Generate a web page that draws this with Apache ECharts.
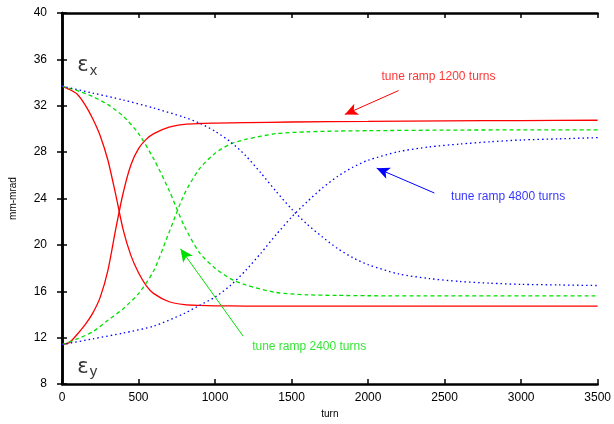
<!DOCTYPE html>
<html>
<head>
<meta charset="utf-8">
<script src="https://cdn.jsdelivr.net/npm/echarts@6/dist/echarts.min.js"></script>
<style>
html, body { margin: 0; padding: 0; background: #fff; }
#chart { width: 614px; height: 424px; }
</style>
</head>
<body>
<div id="chart"></div>
<script>
// 数据 (turn, mm-mrad)
var redTurns = [0, 50, 100, 150, 200, 250, 300, 350, 400, 450, 500, 550, 600, 700, 800, 900, 1000, 1200, 1500, 2000, 2500, 3000, 3500];
var redEx = [33.7, 33.4, 33.0, 32.1, 30.9, 29.4, 27.3, 24.4, 21.3, 19.1, 17.6, 16.5, 15.8, 15.1, 14.85, 14.78, 14.75, 14.73, 14.72, 14.72, 14.73, 14.73, 14.73];
var redEy = [11.4, 11.6, 12.3, 13.1, 14.1, 15.5, 17.8, 21.3, 24.5, 26.9, 28.3, 29.1, 29.6, 30.15, 30.4, 30.47, 30.5, 30.55, 30.6, 30.65, 30.7, 30.72, 30.75];

var greenTurns = [0, 100, 200, 300, 400, 500, 600, 700, 800, 900, 1000, 1100, 1200, 1400, 1600, 1800, 2000, 2500, 3000, 3500];
var greenEx = [33.7, 33.3, 32.8, 32.1, 31.1, 29.6, 27.4, 24.7, 21.6, 19.3, 18.0, 17.1, 16.55, 15.9, 15.7, 15.65, 15.62, 15.6, 15.6, 15.6];
var greenEy = [11.4, 11.9, 12.5, 13.5, 14.5, 15.8, 17.8, 21.1, 24.4, 26.6, 27.9, 28.7, 29.1, 29.6, 29.75, 29.82, 29.85, 29.9, 29.92, 29.93];

var blueTurns = [0, 200, 400, 600, 800, 900, 1000, 1100, 1200, 1300, 1400, 1500, 1600, 1700, 1800, 1900, 2000, 2200, 2400, 2600, 2800, 3000, 3250, 3500];
var blueEx = [33.7, 33.1, 32.5, 31.8, 31.0, 30.5, 29.8, 28.9, 27.7, 26.2, 24.6, 23.1, 21.8, 20.7, 19.7, 18.9, 18.3, 17.5, 17.1, 16.85, 16.7, 16.6, 16.55, 16.5];
var blueEy = [11.4, 11.9, 12.4, 13.0, 14.1, 14.8, 15.5, 16.5, 17.8, 19.3, 20.9, 22.4, 23.7, 24.9, 25.9, 26.7, 27.3, 28.05, 28.45, 28.7, 28.9, 29.05, 29.15, 29.25];

var xTicks = [0, 500, 1000, 1500, 2000, 2500, 3000, 3500];
var yTicks = [8, 12, 16, 20, 24, 28, 32, 36, 40];

// 注释: 箭头 [起点, 终点] 与文字位置
var redArrow = [[2199, 33.31], [1848, 31.25]];
var blueArrow = [[2433, 24.48], [2056, 26.62]];
var greenArrow = [[1184, 12.13], [774, 19.67]];
var redNote = [2460, 34.5];
var blueNote = [2915, 24.2];
var greenNote = [1615, 11.2];
var exPos = [165, 35.45];
var eyPos = [165, 9.45];

function pairs(xs, ys) {
	var out = [];
	for (var i = 0; i < xs.length; i++) {
		out.push([xs[i], ys[i]]);
	}
	return out;
}

function curve(xs, ys, color, type) {
	return {
		type : 'line',
		data : pairs(xs, ys),
		showSymbol : false,
		smooth : 0.25,
		lineStyle : { color : color, width : 1.3, type : type },
		z : 3
	};
}

function arrow(pts, color) {
	return {
		type : 'line',
		data : [],
		markLine : {
			silent : true,
			symbol : [ 'none', 'arrow' ],
			symbolSize : [ 9, 13 ],
			label : { show : false },
			lineStyle : { color : color, width : 1, type : 'solid' },
			data : [ [ { coord : pts[0] }, { coord : pts[1] } ] ]
		}
	};
}

function note(pos, text, color, rich) {
	return {
		type : 'scatter',
		data : [ pos ],
		symbolSize : 0,
		silent : true,
		label : {
			show : true,
			position : 'inside',
			formatter : text,
			color : color,
			fontSize : 12,
			fontFamily : 'Liberation Sans',
			rich : rich
		}
	};
}

var epsRich = {
	e : { fontSize : 21, fontFamily : 'DejaVu Sans', color : '#000', verticalAlign : 'bottom' },
	s : { fontSize : 15, fontFamily : 'Liberation Sans', color : '#000', verticalAlign : 'bottom', padding : [ 0, 0, -2, 1 ] }
};

var axisBase = {
	axisLine : { show : true, lineStyle : { color : '#000', width : 2.5 } },
	axisTick : { show : true, inside : true, length : 5, lineStyle : { color : '#000', width : 1.5 } },
	splitLine : { show : false }
};

function plain(v) {
	return String(v);
}

var chart = echarts.init(document.getElementById('chart'));
var option = {
	animation : false,
	grid : { left : 61, right : 15, top : 13, bottom : 38 },
	xAxis : [ Object.assign({
		type : 'value', position : 'bottom',
		min : xTicks[0], max : xTicks[xTicks.length - 1], interval : 500,
		name : 'turn', nameLocation : 'middle', nameGap : 24,
		nameTextStyle : { fontSize : 10, fontFamily : 'Liberation Sans', color : '#000' },
		axisLabel : { fontSize : 12, fontFamily : 'Liberation Sans', color : '#000', margin : 8, formatter : plain }
	}, axisBase), Object.assign({
		type : 'value', position : 'top',
		min : xTicks[0], max : xTicks[xTicks.length - 1], interval : 500,
		axisLabel : { show : false }
	}, axisBase) ],
	yAxis : [ Object.assign({
		type : 'value', position : 'left',
		min : yTicks[0], max : yTicks[yTicks.length - 1], interval : 4,
		name : 'mm-mrad', nameLocation : 'middle', nameGap : 44,
		nameTextStyle : { fontSize : 10, fontFamily : 'Liberation Sans', color : '#000' },
		axisLabel : { fontSize : 12, fontFamily : 'Liberation Sans', color : '#000', margin : 15, formatter : plain }
	}, axisBase), Object.assign({
		type : 'value', position : 'right',
		min : yTicks[0], max : yTicks[yTicks.length - 1], interval : 4,
		axisLabel : { show : false }
	}, axisBase) ],
	series : [
		curve(redTurns, redEx, '#ff0000', 'solid'),
		curve(redTurns, redEy, '#ff0000', 'solid'),
		curve(greenTurns, greenEx, '#00e000', [ 4, 3 ]),
		curve(greenTurns, greenEy, '#00e000', [ 4, 3 ]),
		curve(blueTurns, blueEx, '#0000ff', [ 1.5, 3 ]),
		curve(blueTurns, blueEy, '#0000ff', [ 1.5, 3 ]),
		arrow(redArrow, '#ff0000'),
		arrow(blueArrow, '#0000ff'),
		arrow(greenArrow, '#00e000'),
		note(redNote, 'tune ramp 1200 turns', '#ff0000'),
		note(blueNote, 'tune ramp 4800 turns', '#0000ff'),
		note(greenNote, 'tune ramp 2400 turns', '#00e000'),
		note(exPos, '{e|\u03b5}{s|x}', '#000', epsRich),
		note(eyPos, '{e|\u03b5}{s|y}', '#000', epsRich)
	]
};
chart.setOption(option);
</script>
</body>
</html>
